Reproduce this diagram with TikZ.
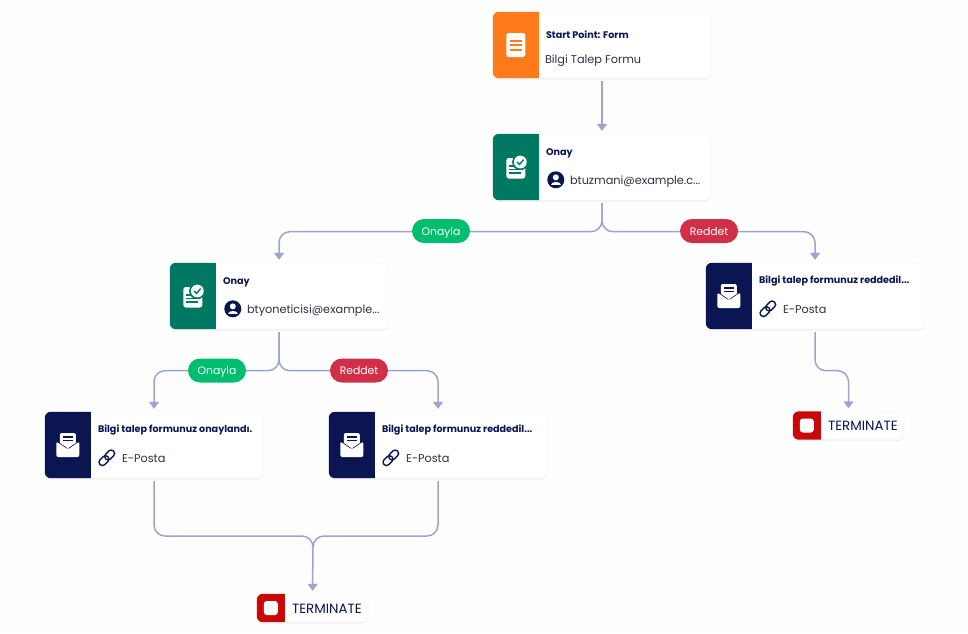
\documentclass[tikz,border=0pt]{standalone}
\usepackage{fontspec}
\setmainfont{Poppins}
\usetikzlibrary{arrows.meta, positioning, calc, shadows}
\definecolor{formorange}{HTML}{FF7A1A}
\definecolor{approvalgreen}{HTML}{007862}
\definecolor{mailnavy}{HTML}{0A1551}
\definecolor{stopred}{HTML}{C90808}
\definecolor{flowline}{HTML}{9DA5CE}
\definecolor{yesgreen}{HTML}{01BD6F}
\definecolor{nored}{HTML}{D12E47}
\definecolor{subtext}{HTML}{2B3245}
\newcommand{\cardtab}[3]{\fill[#2] ([xshift=#3pt]#1.north west) -- ([xshift=#3pt]#1.south west) [rounded corners=6pt] -- (#1.south west) -- (#1.north west) [sharp corners] -- ([xshift=#3pt]#1.north west) -- cycle;}

\begin{document}
\begin{tikzpicture}[
  x=1pt, y=-1pt,
  cardbox/.style={rectangle, fill=white, draw=black!4, line width=0.4pt, rounded corners=6pt, minimum width=218pt, minimum height=66pt, inner sep=0pt, drop shadow={opacity=0.10, shadow xshift=0pt, shadow yshift=-1.5pt}},
  stopbox/.style={cardbox, minimum width=111pt, minimum height=28pt},
  titletext/.style={anchor=west, inner sep=0pt, text=mailnavy, font=\fontsize{9.6}{11}\selectfont\bfseries},
  subline/.style={anchor=west, inner sep=0pt, text=subtext, font=\fontsize{11.3}{13}\selectfont},
  stoptext/.style={anchor=west, inner sep=0pt, text=mailnavy, font=\fontsize{13.4}{15}\selectfont},
  pill/.style={rectangle, rounded corners=12pt, minimum width=58pt, minimum height=24pt, inner sep=0pt, text height=9pt, text depth=0.5pt, text=white, font=\fontsize{10.8}{12}\selectfont},
  link/.style={line width=1.5pt, draw=flowline, rounded corners=11pt},
  arrow/.style={link, -{Triangle[length=7pt, width=10pt]}, shorten >=3pt},
  formicon/.pic={
    \fill[white, rounded corners=2.5pt] (-9.5,-12) rectangle (9.5,12);
    \foreach \rowy in {-4.5, 0, 4.5} \draw[formorange, line width=2pt] (-6,\rowy) -- (6,\rowy);
  },
  okicon/.pic={
    \fill[white, rounded corners=2.5pt] (-9.5,-9) rectangle (9.5,11.5);
    \foreach \rowy in {-1, 2.5} \draw[approvalgreen, line width=1.3pt] (-7,\rowy) -- (2,\rowy);
    \draw[approvalgreen, line width=1.3pt] (-7,6) -- (5,6);
    \fill[approvalgreen] (4.5,-5) circle (8.2);
    \fill[white] (4.5,-5) circle (6.4);
    \draw[approvalgreen, line width=1.4pt] (1.3,-5) -- (3.8,-2.6) -- (7.8,-7.4);
  },
  mailicon/.pic={
    \fill[white, rounded corners=2pt] (-8,-12) rectangle (8,4);
    \draw[mailnavy, line width=1.5pt] (-5,-8) -- (5,-8) (-5,-4.5) -- (5,-4.5);
    \fill[mailnavy] (-12.5,-5) -- (0,3.5) -- (12.5,-5) -- (12.5,-1.5) -- (0,6.5) -- (-12.5,-1.5) -- cycle;
    \fill[white, rounded corners=2pt] (-11.5,-3.5) -- (0,4.5) -- (11.5,-3.5) -- (11.5,12) -- (-11.5,12) -- cycle;
  },
  usericon/.pic={
    \fill[mailnavy] (0,0) circle (8.5);
    \fill[white] (0,-2.4) circle (3);
    \fill[white] (-5,5) .. controls (-5,1) and (5,1) .. (5,5) -- cycle;
  },
  linkicon/.pic={
    \begin{scope}[rotate=45]
      \draw[mailnavy, line width=1.4pt, rounded corners=3.2pt] (-9.5,-3.4) rectangle (1.5,3.4);
      \draw[mailnavy, line width=1.4pt, rounded corners=3.2pt] (-1.5,-3.4) rectangle (9.5,3.4);
    \end{scope}
  },
  stopicon/.pic={
    \fill[white, rounded corners=3pt] (-7,-7) rectangle (7,7);
  }
]
  \useasboundingbox (0,0) rectangle (968,633);
  \fill[white!99.5!black] (0,0) rectangle (968,633);

  \node[cardbox] (startform) at (602,45) {};
  \node[cardbox] (firstok) at (602,167) {};
  \node[cardbox] (secondok) at (279,296) {};
  \node[cardbox] (rejectmail) at (815,296) {};
  \node[cardbox] (okmail) at (154,445) {};
  \node[cardbox] (denymail) at (438,445) {};
  \node[stopbox] (stopright) at (848.5,425.5) {};
  \node[stopbox] (stopleft) at (312.5,608) {};
  \coordinate (merge) at (313,536);

  % colored ends of the cards
  \cardtab{startform}{formorange}{46}
  \cardtab{firstok}{approvalgreen}{46}
  \cardtab{secondok}{approvalgreen}{46}
  \cardtab{rejectmail}{mailnavy}{46}
  \cardtab{okmail}{mailnavy}{46}
  \cardtab{denymail}{mailnavy}{46}
  \cardtab{stopright}{stopred}{28}
  \cardtab{stopleft}{stopred}{28}

  \pic at ([xshift=23pt]startform.west) {formicon};
  \pic at ([xshift=23pt]firstok.west) {okicon};
  \pic at ([xshift=23pt]secondok.west) {okicon};
  \pic at ([xshift=23pt]rejectmail.west) {mailicon};
  \pic at ([xshift=23pt]okmail.west) {mailicon};
  \pic at ([xshift=23pt]denymail.west) {mailicon};
  \pic at ([xshift=14pt]stopright.west) {stopicon};
  \pic at ([xshift=14pt]stopleft.west) {stopicon};

  \node[titletext] (startname) at ([xshift=53pt,yshift=-22.5pt]startform.north west) {Start Point: Form};
  \node[subline] (startsub) at ([xshift=52pt,yshift=-48.5pt]startform.north west) {Bilgi Talep Formu};

  \node[titletext] (firstname) at ([xshift=53pt,yshift=-19.5pt]firstok.north west) {Onay};
  \pic at ([xshift=63pt,yshift=-46pt]firstok.north west) {usericon};
  \node[subline] (firstsub) at ([xshift=77pt,yshift=-47.5pt]firstok.north west) {btuzmani@example.c...};

  \node[titletext] (secondname) at ([xshift=53pt,yshift=-19.5pt]secondok.north west) {Onay};
  \pic at ([xshift=63pt,yshift=-46pt]secondok.north west) {usericon};
  \node[subline] (secondsub) at ([xshift=77pt,yshift=-47.5pt]secondok.north west) {btyoneticisi@example...};

  \node[titletext] (rejectname) at ([xshift=53pt,yshift=-18.5pt]rejectmail.north west) {Bilgi talep formunuz reddedil...};
  \pic at ([xshift=62pt,yshift=-46pt]rejectmail.north west) {linkicon};
  \node[subline] (rejectsub) at ([xshift=77pt,yshift=-47pt]rejectmail.north west) {E-Posta};

  \node[titletext] (okname) at ([xshift=53pt,yshift=-18.5pt]okmail.north west) {Bilgi talep formunuz onaylandı.};
  \pic at ([xshift=62pt,yshift=-46pt]okmail.north west) {linkicon};
  \node[subline] (oksub) at ([xshift=77pt,yshift=-47pt]okmail.north west) {E-Posta};

  \node[titletext] (denyname) at ([xshift=53pt,yshift=-18.5pt]denymail.north west) {Bilgi talep formunuz reddedil...};
  \pic at ([xshift=62pt,yshift=-46pt]denymail.north west) {linkicon};
  \node[subline] (denysub) at ([xshift=77pt,yshift=-47pt]denymail.north west) {E-Posta};

  \node[stoptext] (stoprightname) at ([xshift=35pt,yshift=-0.5pt]stopright.west) {TERMINATE};
  \node[stoptext] (stopleftname) at ([xshift=35pt,yshift=-0.5pt]stopleft.west) {TERMINATE};

  \draw[arrow, shorten <=3pt] (startform) -- (firstok);
  \draw[arrow, shorten <=3pt] (firstok.south) -- ++(0,31.5) -| (secondok.north);
  \draw[arrow, shorten <=3pt] (firstok.south) -- ++(0,31.5) -| (rejectmail.north);
  \draw[arrow, shorten <=3pt] (secondok.south) -- ++(0,41.5) -| (okmail.north);
  \draw[arrow, shorten <=3pt] (secondok.south) -- ++(0,41.5) -| (denymail.north);
  \draw[arrow, shorten <=3pt] (rejectmail.south) -- ++(0,41.5) -| (stopright.north);
  \draw[link, shorten <=3pt] (okmail.south) |- (merge) -- ++(0,11);
  \draw[link, shorten <=3pt] (denymail.south) |- (merge) -- ++(0,11);
  \draw[arrow] ([yshift=-8pt]merge) -- (stopleft.north);

  \node[pill, fill=yesgreen] (firstyes) at (441,231) {Onayla};
  \node[pill, fill=nored] (firstno) at (709,231) {Reddet};
  \node[pill, fill=yesgreen] (secondyes) at (217,370.5) {Onayla};
  \node[pill, fill=nored] (secondno) at (359,370.5) {Reddet};
\end{tikzpicture}
\end{document}
